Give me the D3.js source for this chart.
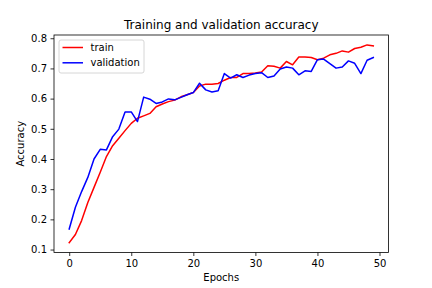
<!DOCTYPE html>
<html lang="en">
<head>
<meta charset="UTF-8">
<title>Training and validation accuracy</title>
<script src="https://d3js.org/d3.v7.min.js"></script>
<style>
    body { margin: 0; background: #fff; }
    text { font-family: "DejaVu Sans", sans-serif; fill: #000; }
</style>
</head>
<body>
<script>
// accuracy per epoch
var trainAcc = [0.123, 0.150, 0.196, 0.256, 0.306, 0.356, 0.408, 0.444, 0.469, 0.494,
                0.518, 0.535, 0.543, 0.551, 0.573, 0.582, 0.590, 0.595, 0.606, 0.613,
                0.620, 0.642, 0.648, 0.648, 0.650, 0.661, 0.670, 0.670, 0.683, 0.683,
                0.685, 0.688, 0.709, 0.707, 0.701, 0.723, 0.712, 0.738, 0.738, 0.736,
                0.729, 0.734, 0.745, 0.750, 0.758, 0.754, 0.766, 0.770, 0.778, 0.775];
var valAcc = [0.168, 0.240, 0.292, 0.339, 0.400, 0.432, 0.430, 0.474, 0.499, 0.556,
              0.556, 0.524, 0.605, 0.598, 0.584, 0.589, 0.599, 0.596, 0.604, 0.613,
              0.620, 0.651, 0.629, 0.622, 0.626, 0.683, 0.668, 0.679, 0.670, 0.678,
              0.683, 0.686, 0.670, 0.675, 0.698, 0.705, 0.701, 0.679, 0.692, 0.690,
              0.729, 0.731, 0.716, 0.701, 0.705, 0.725, 0.717, 0.683, 0.727, 0.736];
var xTicks = [0, 10, 20, 30, 40, 50];
var yTicks = [0.1, 0.2, 0.3, 0.4, 0.5, 0.6, 0.7, 0.8];
var seriesNames = ["train", "validation"];
var seriesColors = ["#ff0000", "#0000ff"];

var width = 432, height = 288;
var axL = 54, axR = 388.5, axT = 35, axB = 252.5;

var svg = d3.select("body").append("svg")
    .attr("width", width)
    .attr("height", height);

// matplotlib style 5% margins
var n = trainAcc.length;
var xPad = (n - 1) * 0.05;
var x = d3.scaleLinear().domain([-xPad, n - 1 + xPad]).range([axL, axR]);
var all = trainAcc.concat(valAcc);
var lo = d3.min(all), hi = d3.max(all), yPad = (hi - lo) * 0.05;
var y = d3.scaleLinear().domain([lo - yPad, hi + yPad]).range([axB, axT]);

var line = d3.line()
    .x(function(d, i) { return x(i); })
    .y(function(d) { return y(d); });

svg.append("g")
    .selectAll("path")
    .data([trainAcc, valAcc])
    .enter().append("path")
    .attr("d", line)
    .attr("fill", "none")
    .attr("stroke", function(d, i) { return seriesColors[i]; })
    .attr("stroke-width", 1.5)
    .attr("stroke-linejoin", "round")
    .attr("stroke-linecap", "square");

// axes
var xAxis = svg.append("g")
    .attr("transform", "translate(0," + axB + ")")
    .call(d3.axisBottom(x).tickValues(xTicks).tickSize(3.5).tickPadding(3.5).tickFormat(d3.format("d")));
var yAxis = svg.append("g")
    .attr("transform", "translate(" + axL + ",0)")
    .call(d3.axisLeft(y).tickValues(yTicks).tickSize(3.5).tickPadding(3.5).tickFormat(d3.format(".1f")));
[xAxis, yAxis].forEach(function(a) {
    a.select(".domain").remove();
    a.selectAll("line").attr("stroke", "#000").attr("stroke-width", 0.8);
    a.selectAll("text").attr("font-size", 10).attr("font-family", "DejaVu Sans").attr("fill", "#000");
});

// frame
svg.append("rect")
    .attr("x", axL).attr("y", axT)
    .attr("width", axR - axL).attr("height", axB - axT)
    .attr("fill", "none").attr("stroke", "#000").attr("stroke-width", 0.8);

// title and labels
svg.append("text")
    .attr("x", (axL + axR) / 2).attr("y", axT - 6)
    .attr("text-anchor", "middle").attr("font-size", 12)
    .text("Training and validation accuracy");
svg.append("text")
    .attr("x", (axL + axR) / 2).attr("y", 281)
    .attr("text-anchor", "middle").attr("font-size", 10)
    .text("Epochs");
svg.append("text")
    .attr("transform", "translate(24," + (axT + axB) / 2 + ") rotate(-90)")
    .attr("text-anchor", "middle").attr("font-size", 10)
    .text("Accuracy");

// legend
var legend = svg.append("g").attr("transform", "translate(59,40)");
legend.append("rect")
    .attr("width", 85).attr("height", 33).attr("rx", 2)
    .attr("fill", "#fff").attr("fill-opacity", 0.8)
    .attr("stroke", "#ccc").attr("stroke-width", 0.8);
var items = legend.selectAll(".item")
    .data(seriesNames)
    .enter().append("g")
    .attr("class", "item")
    .attr("transform", function(d, i) { return "translate(0," + (7.5 + i * 15.3) + ")"; });
items.append("line")
    .attr("x1", 3.5).attr("x2", 24)
    .attr("stroke", function(d, i) { return seriesColors[i]; })
    .attr("stroke-width", 1.5);
items.append("text")
    .attr("x", 31.5).attr("dy", "0.35em")
    .attr("font-size", 10)
    .text(function(d) { return d; });
</script>
</body>
</html>
